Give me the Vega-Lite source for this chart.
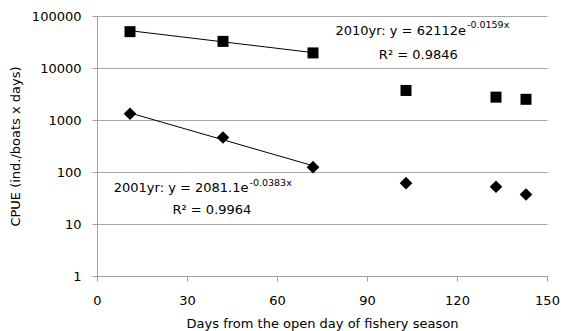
{
  "$schema": "https://vega.github.io/schema/vega-lite/v6.json",
  "width": 450,
  "height": 260,
  "autosize": {"type": "none"},
  "padding": {"left": 97, "top": 16, "right": 14, "bottom": 55},
  "background": "white",
  "config": {
    "font": "DejaVu Sans",
    "view": {"stroke": null},
    "axis": {
      "labelFont": "DejaVu Sans",
      "titleFont": "DejaVu Sans",
      "labelFontSize": 13,
      "titleFontSize": 13,
      "titleFontWeight": "normal",
      "labelColor": "#000000",
      "titleColor": "#000000",
      "domainColor": "#a0a0a0",
      "tickColor": "#a0a0a0",
      "gridColor": "#a8a8a8",
      "gridOpacity": 1,
      "tickSize": 5,
      "labelFlush": false,
      "labelOverlap": false
    }
  },
  "datasets": {
    "cpue": [
      {"year": "2010", "day": 11, "cpue": 50000},
      {"year": "2010", "day": 42, "cpue": 32500},
      {"year": "2010", "day": 72, "cpue": 19500},
      {"year": "2010", "day": 103, "cpue": 3700},
      {"year": "2010", "day": 133, "cpue": 2750},
      {"year": "2010", "day": 143, "cpue": 2500},
      {"year": "2001", "day": 11, "cpue": 1320},
      {"year": "2001", "day": 42, "cpue": 460},
      {"year": "2001", "day": 72, "cpue": 124},
      {"year": "2001", "day": 103, "cpue": 61},
      {"year": "2001", "day": 133, "cpue": 52},
      {"year": "2001", "day": 143, "cpue": 37}
    ],
    "trend": [
      {"year": "2010", "day": 11, "cpue": 52129},
      {"year": "2010", "day": 72, "cpue": 19771},
      {"year": "2001", "day": 11, "cpue": 1366},
      {"year": "2001", "day": 72, "cpue": 132}
    ],
    "equation": [
      {"year": "2010", "day": 123.0, "cpue": 52000, "label": "2010yr: y = 62112e"},
      {"year": "2001", "day": 50.5, "cpue": 49.7, "label": "2001yr: y = 2081.1e"}
    ],
    "exponent": [
      {"year": "2010", "day": 123.0, "cpue": 65700, "label": "-0.0159x"},
      {"year": "2001", "day": 50.5, "cpue": 62, "label": "-0.0383x"}
    ],
    "rsquared": [
      {"year": "2010", "day": 107.1, "cpue": 17400, "label": "R² = 0.9846"},
      {"year": "2001", "day": 38.3, "cpue": 18.2, "label": "R² = 0.9964"}
    ]
  },
  "encoding": {
    "x": {
      "field": "day",
      "type": "quantitative",
      "scale": {"domain": [0, 150], "nice": false, "zero": false},
      "axis": {
        "values": [0, 30, 60, 90, 120, 150],
        "grid": false,
        "labelPadding": 13,
        "titlePadding": 10,
        "title": "Days from the open day of fishery season"
      }
    },
    "y": {
      "field": "cpue",
      "type": "quantitative",
      "scale": {"type": "log", "domain": [1, 100000], "nice": false},
      "axis": {
        "values": [1, 10, 100, 1000, 10000, 100000],
        "format": "d",
        "grid": true,
        "labelPadding": 11,
        "titlePadding": 9,
        "title": "CPUE (ind./boats x days)"
      }
    }
  },
  "layer": [
    {
      "data": {"name": "trend"},
      "mark": {"type": "line", "color": "#000000", "strokeWidth": 1},
      "encoding": {"detail": {"field": "year"}}
    },
    {
      "data": {"name": "cpue"},
      "mark": {"type": "point", "filled": true, "opacity": 1, "color": "#000000", "strokeWidth": 0},
      "encoding": {
        "shape": {
          "field": "year",
          "scale": {"domain": ["2010", "2001"], "range": ["square", "diamond"]},
          "legend": null
        },
        "size": {
          "field": "year",
          "scale": {"domain": ["2010", "2001"], "range": [121, 160]},
          "legend": null
        }
      }
    },
    {
      "data": {"name": "equation"},
      "mark": {"type": "text", "align": "right", "baseline": "middle", "fontSize": 13, "color": "#000000"},
      "encoding": {"text": {"field": "label"}}
    },
    {
      "data": {"name": "exponent"},
      "mark": {"type": "text", "align": "left", "baseline": "middle", "fontSize": 9.5, "dx": 1, "color": "#000000"},
      "encoding": {"text": {"field": "label"}}
    },
    {
      "data": {"name": "rsquared"},
      "mark": {"type": "text", "align": "center", "baseline": "middle", "fontSize": 13, "color": "#000000"},
      "encoding": {"text": {"field": "label"}}
    }
  ]
}
